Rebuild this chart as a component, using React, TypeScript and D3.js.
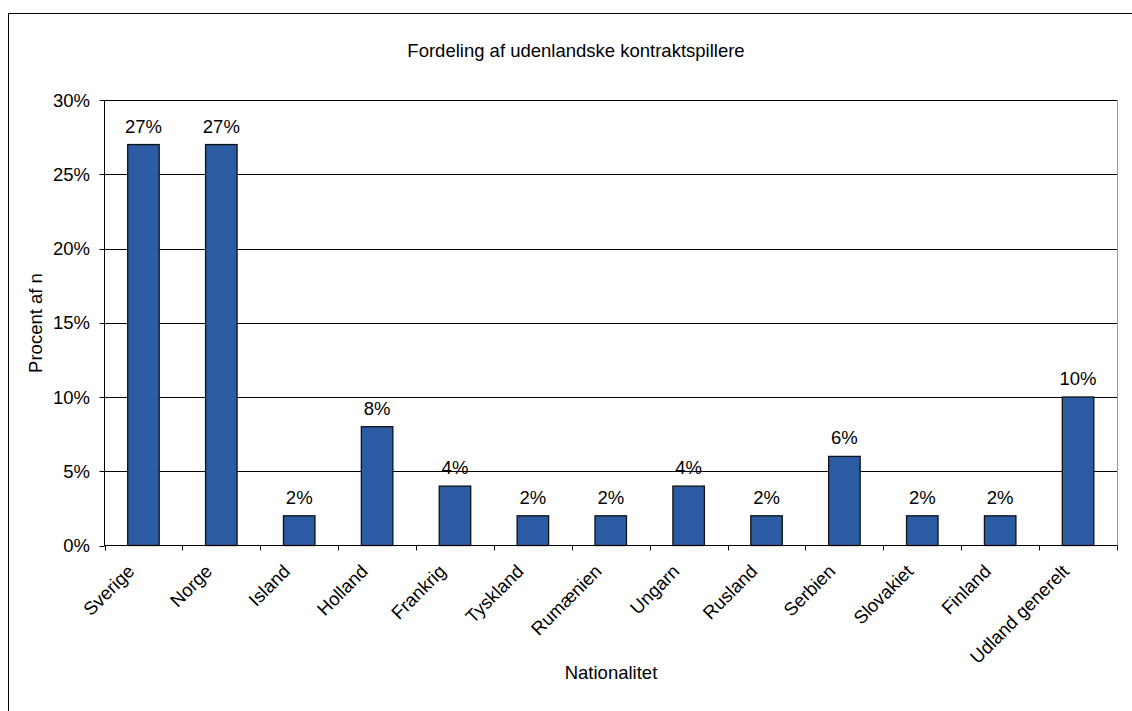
import React from "react";
import * as d3 from "d3";

const categories = ["Sverige", "Norge", "Island", "Holland", "Frankrig", "Tyskland", "Rumænien", "Ungarn", "Rusland", "Serbien", "Slovakiet", "Finland", "Udland generelt"];
const values = [27, 27, 2, 8, 4, 2, 2, 4, 2, 6, 2, 2, 10];
const yTicks = [0, 5, 10, 15, 20, 25, 30];
const title = "Fordeling af udenlandske kontraktspillere";
const xTitle = "Nationalitet";
const yTitle = "Procent af n";

const W = 1132, H = 711;
const plot = { left: 104.5, right: 1117, top: 100, bottom: 545.5 };
const FONT = "'Liberation Sans', Arial, Helvetica, sans-serif";
const FS = 18.5;

export default function App() {
  const band = d3.scaleBand<string>().domain(categories).range([plot.left, plot.right]).padding(0);
  const y = d3.scaleLinear().domain([0, 30]).range([plot.bottom, plot.top]);
  const bw = band.bandwidth();
  const barW = 31.5;
  return (
    <svg width={W} height={H} style={{ position: "absolute", left: 0, top: 0, background: "#fff" }} fontFamily={FONT}>
      <rect x={8.5} y={13.5} width={1200} height={800} fill="#fff" stroke="#000" strokeWidth={1} />
      <text x={576} y={57} textAnchor="middle" fontSize={FS} fill="#000">{title}</text>
      {yTicks.filter(t => t > 0).map(t => (
        <line key={t} x1={plot.left} x2={plot.right} y1={Math.round(y(t)) + 0.5} y2={Math.round(y(t)) + 0.5} stroke="#000" strokeWidth={1} />
      ))}
      <line x1={plot.right + 0.5} x2={plot.right + 0.5} y1={plot.top} y2={plot.bottom} stroke="#999" strokeWidth={1} />
      {categories.map((c, i) => {
        const cx = (band(c) as number) + bw / 2;
        return (
          <g key={c}>
            <rect x={cx - barW / 2} y={y(values[i])} width={barW} height={y(0) - y(values[i])} fill="#2B5BA3" stroke="#111" strokeWidth={1.3} />
            <text x={cx} y={y(values[i]) - 12} textAnchor="middle" fontSize={FS} fill="#000">{values[i]}%</text>
          </g>
        );
      })}
      <line x1={plot.left} x2={plot.left} y1={plot.top} y2={plot.bottom} stroke="#000" strokeWidth={1} />
      {yTicks.map(t => (
        <g key={t}>
          <line x1={plot.left - 5} x2={plot.left} y1={Math.round(y(t)) + 0.5} y2={Math.round(y(t)) + 0.5} stroke="#000" />
          <text x={plot.left - 14.5} y={y(t) + 6.5} textAnchor="end" fontSize={FS} fill="#000">{t}%</text>
        </g>
      ))}
      <line x1={plot.left} x2={plot.right} y1={plot.bottom} y2={plot.bottom} stroke="#000" strokeWidth={1} />
      {[...categories.map(c => band(c) as number), plot.right].map((tx, i) => (
        <line key={i} x1={Math.round(tx) + 0.5} x2={Math.round(tx) + 0.5} y1={plot.bottom} y2={plot.bottom + 5} stroke="#000" />
      ))}
      {categories.map(c => {
        const cx = (band(c) as number) + bw / 2;
        return (
          <text key={c} transform={`translate(${cx - 8},${plot.bottom + 27}) rotate(-45)`} textAnchor="end" fontSize={FS} fill="#000">{c}</text>
        );
      })}
      <text x={611} y={679} textAnchor="middle" fontSize={FS} fill="#000">{xTitle}</text>
      <text transform={`translate(42,323) rotate(-90)`} textAnchor="middle" fontSize={FS} fill="#000">{yTitle}</text>
    </svg>
  );
}
